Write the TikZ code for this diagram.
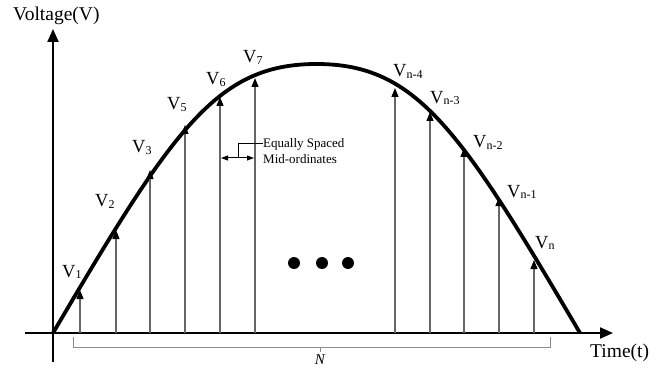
\documentclass[tikz,border=0pt]{standalone}
\usepackage{fontspec}
\setmainfont{Liberation Serif}
\usetikzlibrary{arrows.meta}
\tikzset{
  axisline/.style={line width=2pt,-{Triangle[length=13pt,width=11pt]}},
  ordline/.style={draw=black!60,line width=1.3pt,-{Triangle[length=9pt,width=7pt,color=black]}},
  curveline/.style={line width=3.8pt},
  bracket/.style={draw=black!45,line width=1pt},
  vlabel/.style={anchor=base west,inner sep=0pt,font=\fontsize{18.5}{18.5}\selectfont},
  axlabel/.style={anchor=base west,inner sep=0pt,font=\fontsize{19.5}{20}\selectfont},
  note/.style={anchor=west,inner sep=0pt,align=left,font=\fontsize{13}{15.5}\selectfont},
  dotmark/.style={circle,fill=black,inner sep=0pt,minimum size=12pt}
}
\newcommand{\Vs}[1]{V\raisebox{-1.5pt}{\fontsize{12}{12}\selectfont #1}}
\begin{document}
\begin{tikzpicture}[x=1pt,y=-1pt]
\useasboundingbox (0,0) rectangle (665,369);
% axes
\coordinate (yb) at (53,362);
\coordinate (yt) at (53,29);
\coordinate (xl) at (25,333);
\coordinate (xr) at (613,333);
\draw[axisline] (yb) -- (yt);
\draw[axisline] (xl) -- (xr);
\node[axlabel] (ylab) at (13,21) {Voltage(V)};
\node[axlabel] (xlab) at (590,357) {Time(t)};
% curve
\coordinate (c0) at (53,333);
\coordinate (cp) at (316.5,64);
\coordinate (c1) at (580,333);
\draw[curveline] (c0) .. controls (173,129) and (216.5,64) .. (cp)
  .. controls (416.5,64) and (460,129) .. (c1);
% mid-ordinates
\foreach \i/\x/\t in {1/80/290, 2/116/230, 3/150/170, 5/185/125, 6/220/97, 7/255/78,
                      n4/395/88, n3/430/112, n2/464/148, n1/499/197, n/534/260} {
  \coordinate (b\i) at (\x,333);
  \coordinate (t\i) at (\x,\t);
  \draw[ordline] (b\i) -- (t\i);
}
% labels
\node[vlabel] (l1) at (62,277) {\Vs{1}};
\node[vlabel] (l2) at (95,207) {\Vs{2}};
\node[vlabel] (l3) at (132,153) {\Vs{3}};
\node[vlabel] (l5) at (167,110) {\Vs{5}};
\node[vlabel] (l6) at (206,85) {\Vs{6}};
\node[vlabel] (l7) at (243,63) {\Vs{7}};
\node[vlabel] (ln4) at (393,77) {\Vs{n-4}};
\node[vlabel] (ln3) at (430,103) {\Vs{n-3}};
\node[vlabel] (ln2) at (473,148) {\Vs{n-2}};
\node[vlabel] (ln1) at (507,197) {\Vs{n-1}};
\node[vlabel] (ln) at (535,248) {\Vs{n}};
% spacing annotation
\coordinate (da) at (221,158);
\coordinate (db) at (254,158);
\coordinate (dm) at (238,158);
\node[note] (eq) at (263,151) {Equally Spaced\\Mid-ordinates};
\draw[line width=1pt,{Triangle[length=7pt,width=5pt]}-{Triangle[length=7pt,width=5pt]}] (da) -- (db);
\draw[line width=1pt] (dm) -- (238,144) -- (eq.west |- 0,144);
% dots
\node[dotmark] (d1) at (294,263) {};
\node[dotmark] (d2) at (322,263) {};
\node[dotmark] (d3) at (348,263) {};
% bracket N
\coordinate (bl) at (73,337);
\coordinate (br) at (550,337);
\coordinate (bm) at (320,347);
\draw[bracket] (bl) -- (73,347) -- (550,347) -- (br);
\draw[bracket] (bm) -- (320,352);
\node[inner sep=0pt,anchor=base,font=\fontsize{15}{15}\selectfont\itshape] (nlab) at (320,364) {N};
\end{tikzpicture}
\end{document}
